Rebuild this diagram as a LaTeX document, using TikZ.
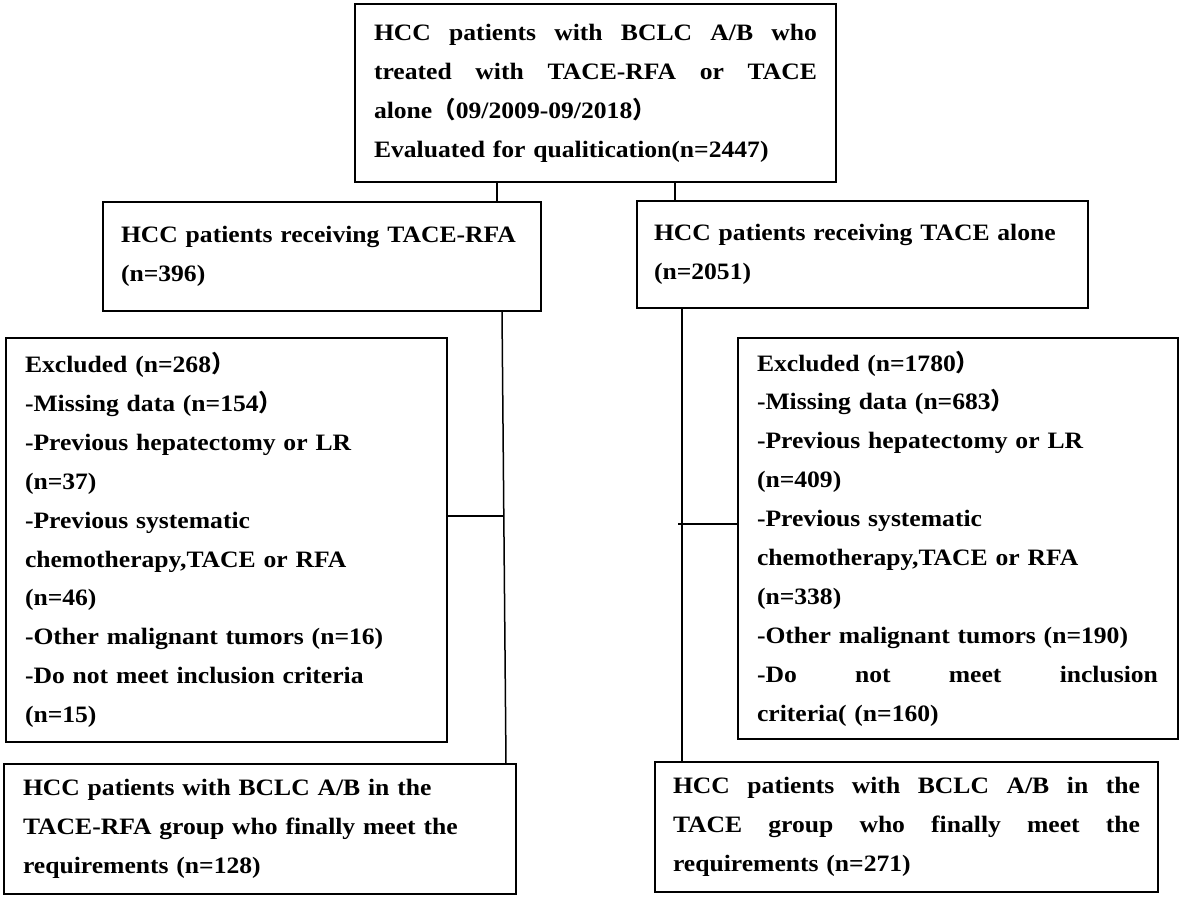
\documentclass[tikz,border=0pt]{standalone}
\usepackage{fontspec}
\setmainfont{Liberation Serif}[FakeStretch=1.09]
\newfontfamily\cjk{Noto Sans CJK SC}
\newcommand{\jline}[2]{{\spaceskip=0pt\xspaceskip=0pt\makebox[#1][s]{#2}}}
\begin{document}
\begin{tikzpicture}[x=1bp,y=-1bp,
  box/.style={draw, line width=1.8bp, anchor=north west, align=left, inner ysep=0pt, outer sep=0pt,
    font=\fontsize{23.5bp}{38.9bp}\selectfont\bfseries},
  link/.style={line width=1.5bp}]
\useasboundingbox (0,0) rectangle (1181,898);
% boxes
\node[box, inner xsep=19bp, text width=443bp, minimum width=481bp, minimum height=178bp] (top) at (355,4)
 {\jline{443bp}{HCC patients with BCLC A/B who}\\
  \jline{443bp}{treated with TACE-RFA or TACE}\\
  alone{\cjk（}09/2009-09/2018{\cjk）}\\
  Evaluated for qualitication(n=2447)};
\node[box, inner xsep=18bp, text width=402bp, minimum width=438bp, minimum height=109bp] (midL) at (103,202)
 {HCC patients receiving TACE-RFA\\(n=396)};
\node[box, inner xsep=17bp, text width=417bp, minimum width=451bp, minimum height=107bp] (midR) at (637,201)
 {HCC patients receiving TACE alone\\(n=2051)};
\node[box, inner xsep=19bp, text width=403bp, minimum width=441bp, minimum height=404bp] (exL) at (6,338)
 {Excluded (n=268{\cjk）}\\
  -Missing data (n=154{\cjk）}\\
  -Previous hepatectomy or LR\\
  (n=37)\\
  -Previous systematic\\
  chemotherapy,TACE or RFA\\
  (n=46)\\
  -Other malignant tumors (n=16)\\
  -Do not meet inclusion criteria\\
  (n=15)};
\node[box, inner xsep=19bp, text width=402bp, minimum width=440bp, minimum height=401bp] (exR) at (738,338)
 {Excluded (n=1780{\cjk）}\\
  -Missing data (n=683{\cjk）}\\
  -Previous hepatectomy or LR\\
  (n=409)\\
  -Previous systematic\\
  chemotherapy,TACE or RFA\\
  (n=338)\\
  -Other malignant tumors (n=190)\\
  \jline{401bp}{-Do not meet inclusion}\\
  criteria( (n=160)};
\node[box, inner xsep=19bp, text width=474bp, minimum width=512bp, minimum height=130bp] (botL) at (4,764)
 {HCC patients with BCLC A/B in the\\
  TACE-RFA group who finally meet the\\
  requirements (n=128)};
\node[box, inner xsep=18bp, text width=467bp, minimum width=503bp, minimum height=130bp] (botR) at (655,762)
 {\jline{467bp}{HCC patients with BCLC A/B in the}\\
  \jline{467bp}{TACE group who finally meet the}\\
  requirements (n=271)};
% connector guides
\coordinate (xA) at (497,0);
\coordinate (xB) at (675,0);
\coordinate (xC1) at (502,0);
\coordinate (xC2) at (506,0);
\coordinate (xD) at (682,0);
\coordinate (jL) at (503,516);
\coordinate (jR) at (678,524);
% connectors
\draw[link] (top.south -| xA) -- (midL.north -| xA);
\draw[link] (top.south -| xB) -- (midR.north -| xB);
\draw[link] (midL.south -| xC1) -- (botL.north -| xC2);
\draw[link] (midR.south -| xD) -- (botR.north -| xD);
\draw[link] (exL.east |- jL) -- (jL);
\draw[link] (jR) -- (exR.west |- jR);
\end{tikzpicture}
\end{document}
